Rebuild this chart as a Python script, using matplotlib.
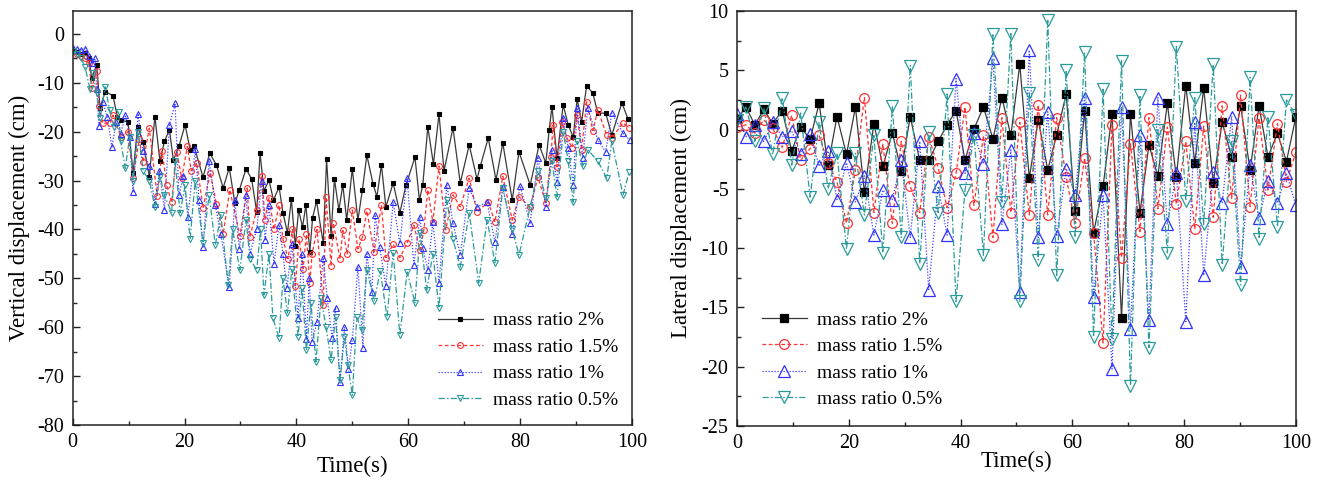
import matplotlib
matplotlib.use('Agg')
import matplotlib.pyplot as plt
from matplotlib.ticker import MultipleLocator

plt.rcParams['font.family'] = ['Liberation Serif', 'DejaVu Serif']
plt.rcParams['axes.unicode_minus'] = False

# ---------------- data: vertical displacement (left) ----------------
labels = ['mass ratio 2%', 'mass ratio 1.5%', 'mass ratio 1%', 'mass ratio 0.5%']

t_v2 = [0.0, 0.8, 1.5, 2.2, 2.9, 3.4, 4.3, 4.9, 5.8, 7.2, 8.0, 8.6, 9.9, 10.8, 11.6,
        12.6, 13.7, 14.7, 15.6, 16.4, 17.3, 18.0, 19.0, 20.1, 21.0, 21.7, 23.3, 24.5, 25.7, 26.9,
        28.0, 29.0, 29.8, 31.0, 32.0, 32.9, 33.5, 34.2, 35.1, 35.9, 36.9, 37.6, 38.4, 39.1, 39.8,
        40.4, 41.1, 41.7, 42.4, 42.9, 43.6, 44.8, 45.4, 46.2, 46.8, 47.6, 48.3, 49.0, 50.0, 51.0,
        51.8, 52.6, 53.7, 54.4, 55.2, 56.0, 57.3, 58.5, 59.6, 61.2, 62.0, 62.6, 63.5, 64.5, 65.5,
        66.4, 68.0, 69.3, 70.9, 72.3, 72.9, 74.3, 75.7, 76.9, 78.6, 79.8, 81.8, 83.4, 84.6, 85.2,
        85.7, 86.6, 87.7, 88.6, 89.5, 90.2, 91.0, 91.9, 93.0, 93.9, 95.3, 96.4, 98.2, 99.3]
v2 = [-3.2, -3.6, -4.0, -3.9, -5.0, -9.0, -6.3, -15.2, -11.8, -12.6, -17.0, -17.6, -18.0, -28.5, -19.0,
      -22.1, -29.2, -16.9, -26.0, -22.0, -19.6, -25.8, -23.0, -18.6, -23.7, -22.9, -29.3, -24.4, -26.8, -31.5,
      -27.4, -34.6, -31.9, -27.6, -29.7, -36.4, -24.4, -32.1, -29.9, -34.0, -31.3, -36.6, -40.7, -33.8, -43.4,
      -36.0, -39.5, -35.0, -44.6, -37.6, -34.2, -42.8, -25.6, -41.3, -29.7, -36.0, -30.9, -38.1, -27.6, -38.1,
      -31.9, -24.8, -30.7, -33.3, -26.8, -35.4, -30.5, -36.6, -30.9, -25.2, -34.0, -30.9, -19.0, -26.6, -16.4,
      -28.0, -19.2, -30.5, -22.7, -29.7, -27.0, -21.3, -29.9, -22.3, -34.0, -24.1, -30.9, -22.7, -26.4, -19.6,
      -14.9, -25.4, -14.5, -18.6, -21.1, -13.3, -18.0, -10.6, -12.1, -16.2, -16.2, -20.7, -14.1, -17.4]

t_v15 = [0.0, 0.8, 1.5, 2.2, 2.9, 3.4, 4.3, 4.7, 5.4, 6.7, 7.2, 8.6, 9.9, 10.8, 11.9,
         12.6, 13.7, 15.1, 16.0, 16.8, 17.7, 18.6, 19.5, 20.5, 21.2, 22.2, 23.3, 24.6, 25.7, 26.9,
         28.1, 29.9, 31.2, 31.7, 32.9, 33.8, 34.4, 35.1, 36.0, 36.9, 37.6, 38.5, 39.3, 39.8, 40.5,
         41.2, 41.8, 42.4, 42.8, 43.7, 44.8, 45.3, 46.2, 46.6, 47.8, 48.3, 49.1, 50.0, 51.0, 51.8,
         52.6, 53.9, 55.2, 56.0, 57.3, 58.5, 59.8, 61.0, 62.1, 62.8, 63.5, 64.4, 65.5, 66.7, 68.0,
         69.3, 70.9, 72.3, 74.3, 75.5, 76.9, 78.6, 79.8, 81.8, 83.2, 84.6, 85.5, 85.9, 86.6, 87.5,
         88.4, 89.3, 90.2, 91.0, 91.9, 93.0, 93.9, 95.5, 96.4, 98.4, 99.5]
v15 = [-3.5, -4.0, -4.6, -5.0, -6.0, -11.1, -7.5, -14.8, -18.3, -18.2, -16.6, -21.0, -20.0, -29.5, -21.5,
       -26.2, -19.3, -33.1, -24.0, -31.0, -34.4, -24.1, -29.5, -23.0, -28.0, -26.4, -35.6, -28.4, -34.8, -40.9,
       -31.9, -41.3, -31.5, -41.5, -36.0, -29.0, -38.0, -33.5, -40.0, -35.0, -42.0, -46.0, -40.0, -51.5, -42.0,
       -48.0, -41.0, -51.0, -45.0, -40.0, -55.5, -33.4, -47.5, -38.7, -46.0, -40.2, -45.0, -36.0, -44.0, -41.6,
       -36.2, -44.6, -35.0, -45.8, -43.0, -45.8, -42.8, -39.1, -44.2, -40.1, -31.9, -38.5, -27.0, -40.1, -32.9,
       -35.4, -29.5, -36.4, -34.4, -38.5, -29.1, -38.1, -33.3, -35.4, -29.3, -34.6, -25.2, -18.6, -27.2, -18.0,
       -21.3, -23.3, -16.6, -23.7, -13.9, -19.8, -15.6, -20.7, -21.3, -18.2, -19.2]

t_v1 = [0.0, 0.8, 1.5, 2.2, 2.9, 3.4, 4.0, 4.3, 4.7, 5.4, 6.2, 7.0, 7.8, 8.6, 9.4,
        10.2, 10.8, 11.7, 12.6, 13.7, 14.7, 15.5, 16.4, 17.3, 18.3, 19.0, 19.8, 20.6, 21.9, 22.6,
        23.3, 24.4, 25.5, 26.5, 28.0, 29.0, 29.8, 31.0, 31.7, 32.9, 33.8, 34.4, 35.1, 36.0, 36.9,
        37.6, 38.3, 39.2, 40.3, 41.0, 41.8, 42.3, 42.8, 43.7, 44.8, 45.5, 46.4, 47.0, 47.8, 48.6,
        49.3, 50.0, 51.0, 51.9, 52.6, 53.5, 54.1, 54.9, 56.0, 57.3, 58.5, 59.8, 61.0, 62.1, 62.6,
        63.5, 64.4, 65.5, 66.9, 68.0, 69.3, 70.9, 72.3, 74.1, 75.5, 76.9, 78.6, 80.0, 81.8, 83.2,
        84.6, 85.7, 86.6, 87.7, 88.6, 89.5, 90.2, 91.2, 92.1, 93.9, 95.3, 96.4, 98.4, 99.6]
v1 = [-2.8, -3.0, -3.3, -3.0, -4.5, -6.0, -5.0, -11.3, -18.8, -14.0, -17.0, -23.1, -18.0, -20.5, -16.6,
      -21.0, -32.4, -16.3, -24.0, -27.0, -34.8, -28.0, -36.0, -18.6, -14.2, -33.0, -29.0, -37.4, -23.6, -34.0,
      -43.6, -26.0, -35.0, -41.0, -51.8, -34.0, -44.0, -33.0, -45.0, -40.0, -30.0, -42.1, -35.0, -47.0, -39.0,
      -45.0, -52.0, -43.0, -58.1, -45.0, -62.4, -50.0, -63.0, -58.9, -45.8, -54.0, -62.2, -56.0, -71.2, -60.0,
      -68.5, -62.6, -47.7, -64.2, -45.0, -52.8, -37.0, -43.6, -51.6, -34.4, -42.8, -29.5, -47.3, -37.4, -43.8,
      -48.3, -38.5, -50.9, -30.9, -38.7, -45.2, -31.5, -35.4, -34.4, -42.6, -31.3, -41.0, -31.1, -38.7, -25.4,
      -35.4, -23.7, -30.3, -17.2, -23.3, -30.9, -15.1, -25.4, -15.1, -21.7, -24.1, -16.2, -20.3, -21.7]

t_v05 = [0.0, 0.8, 1.5, 2.2, 3.1, 3.6, 4.3, 4.9, 5.8, 6.6, 7.4, 8.2, 8.6, 9.4, 10.2,
         10.8, 11.7, 12.6, 13.7, 14.7, 15.6, 16.4, 17.7, 18.3, 19.2, 20.1, 21.0, 21.9, 23.3, 24.4,
         25.5, 26.5, 27.8, 28.6, 29.9, 31.0, 31.7, 32.9, 33.6, 34.2, 35.1, 35.8, 36.9, 37.6, 38.4,
         39.2, 40.3, 41.0, 41.8, 42.6, 43.5, 44.4, 45.3, 46.2, 47.0, 47.8, 48.6, 49.2, 50.0, 50.8,
         51.7, 52.6, 53.9, 55.0, 56.2, 57.3, 58.5, 59.8, 61.2, 62.1, 63.3, 64.4, 65.5, 66.9, 68.0,
         69.3, 70.9, 72.6, 74.1, 75.5, 76.9, 78.6, 79.8, 81.8, 83.2, 84.7, 85.7, 86.6, 87.7, 88.6,
         89.5, 90.2, 91.2, 92.1, 93.9, 95.5, 96.4, 98.4, 99.5]
v05 = [-3.5, -4.2, -5.0, -6.7, -11.3, -8.0, -12.0, -17.2, -10.8, -15.5, -19.0, -16.0, -22.0, -27.5, -21.0,
       -30.0, -20.0, -28.0, -30.0, -35.4, -29.0, -33.0, -36.6, -26.0, -36.6, -31.0, -42.0, -30.0, -42.8, -33.0,
       -43.2, -37.0, -51.4, -40.0, -48.3, -38.0, -46.0, -48.3, -40.0, -53.4, -45.0, -58.1, -62.2, -50.0, -57.1,
       -48.0, -62.0, -52.0, -64.7, -55.0, -67.1, -54.0, -60.0, -66.7, -58.0, -70.8, -62.0, -67.7, -73.9, -58.0,
       -60.6, -48.3, -54.6, -48.5, -57.9, -44.8, -61.6, -48.7, -55.0, -40.7, -52.4, -45.0, -56.1, -34.0, -42.0,
       -47.7, -36.6, -50.9, -38.0, -46.8, -31.5, -40.0, -45.2, -35.4, -28.0, -33.6, -26.0, -33.3, -20.0, -26.0,
       -34.4, -22.0, -27.0, -23.7, -26.0, -29.5, -22.0, -33.0, -28.2]

# ---------------- data: lateral displacement (right) ----------------
t_lat = [0.0, 1.6, 3.2, 4.8, 6.4, 8.1, 9.8, 11.4, 13.1, 14.7, 16.3, 17.9, 19.6, 21.2, 22.8,
         24.5, 26.1, 27.8, 29.4, 31.0, 32.7, 34.3, 36.0, 37.6, 39.2, 40.8, 42.4, 44.1, 45.8, 47.4,
         49.0, 50.6, 52.3, 53.9, 55.6, 57.2, 58.9, 60.5, 62.2, 63.8, 65.5, 67.1, 68.8, 70.4, 72.1,
         73.7, 75.3, 77.0, 78.6, 80.3, 81.9, 83.5, 85.2, 86.8, 88.5, 90.1, 91.8, 93.4, 95.0, 96.7,
         98.3, 100.0]
lat2 = [0.9, 1.9, 0.4, 1.7, 0.5, 1.6, -1.8, 0.2, -0.8, 2.2, -3.0, 1.1, -2.1, 1.9, -5.3,
        0.5, -3.1, -0.3, -3.5, 1.1, -2.6, -2.6, -1.0, 0.4, 1.6, -2.6, 0.05, 1.9, -0.8, 2.7,
        -0.5, 5.5, -4.1, 0.8, -3.4, -0.45, 3.0, -6.9, 1.6, -8.7, -4.8, 1.3, -15.9, 1.3, -7.0,
        -1.3, -3.9, 2.2, -4.0, 3.7, -2.8, 3.5, -4.5, 0.6, -2.3, 2.0, -3.4, 2.0, -2.3, -0.3,
        -2.7, 1.1]
lat15 = [0.2, 0.4, -0.3, 0.8, 0.1, -1.5, 1.2, -2.6, -1.6, -0.5, -2.8, -4.4, -7.9, -3.4, 2.7,
         -7.0, -1.2, -7.9, -1.0, -4.8, -7.0, -0.6, -3.2, -6.6, -3.7, 1.9, -6.4, -0.5, -9.1, 1.0,
         -7.0, 0.6, -7.2, 2.1, -7.2, 1.0, -4.0, -7.9, -2.4, -8.7, -18.0, 0.4, -10.8, -1.2, -8.6,
         1.0, -6.7, 0.2, -6.3, -1.0, -8.4, 0.3, -7.4, 2.0, -5.8, 2.9, -6.5, 1.0, -5.1, 0.5,
         -4.4, -1.9]
lat1 = [1.3, -0.6, 0.4, -1.0, 0.6, -0.6, -0.1, -2.1, -0.4, -3.1, -1.8, -5.9, -2.8, -6.1, -3.9,
        -8.9, -5.1, -5.9, -2.6, -9.1, -1.0, -13.5, -4.8, -8.9, 4.3, -3.7, -0.3, -2.9, 6.0, -8.0,
        -1.7, -13.7, 6.7, -9.1, 1.5, -9.0, -3.3, -5.5, 2.7, -14.1, -5.5, -20.2, 1.9, -16.8, -0.5,
        -16.1, 2.7, -8.0, -3.7, -16.2, 0.6, -12.3, -3.6, -6.2, 1.1, -11.6, -3.0, -7.5, -4.3, -6.2,
        -3.7, -6.4]
lat05 = [0.8, 1.9, -1.0, 1.8, -2.1, 2.7, -3.0, 1.4, -5.7, 0.6, -5.0, -2.0, -10.1, -2.0, -7.2,
         -0.5, -10.4, 2.0, -9.1, 5.4, -11.3, -0.2, -7.0, 3.0, -14.5, -5.1, -0.5, -10.6, 8.1, -6.1,
         8.1, -14.5, 3.1, -11.0, 9.2, -12.3, 5.0, -9.1, 6.5, -17.5, 3.4, -17.7, 5.8, -21.6, 2.9,
         -18.4, 0.0, -10.4, 7.0, -6.0, 2.7, -8.0, 5.5, -11.4, -1.0, -13.1, 4.4, -9.2, 1.1, -8.2,
         2.5, 1.2]

# ---------------- styles ----------------
line_colors = ['#3a3a3a', '#ff3030', '#4040ff', '#2a9a9a']
marker_colors = ['black', '#ff3030', '#3030ff', '#2a9a9a']
linestyles = ['-', (0, (3, 2)), (0, (1, 1.4)), (0, (5, 1.8, 1.2, 1.8))]
markers = ['s', 'o', '^', 'v']

fig = plt.figure(figsize=(13.24, 4.82), dpi=100)
ax1 = fig.add_axes([0.0549, 0.1183, 0.4224, 0.8589])
ax2 = fig.add_axes([0.5566, 0.1162, 0.4222, 0.8610])

left_series = [(t_v2, v2), (t_v15, v15), (t_v1, v1), (t_v05, v05)]
left_ms = [3.2, 4.2, 4.6, 4.6]
for i, (t, v) in enumerate(left_series):
    filled = (i == 0)
    ax1.plot(t, v, linestyle=linestyles[i], color=line_colors[i], lw=0.9,
             marker=markers[i], ms=left_ms[i], mew=0.8,
             mec=marker_colors[i], mfc=marker_colors[i] if filled else 'none',
             label=labels[i])

right_series = [lat2, lat15, lat1, lat05]
right_ms = [6.0, 7.0, 8.0, 8.0]
for i, v in enumerate(right_series):
    filled = (i == 0)
    ax2.plot(t_lat, v, linestyle=linestyles[i], color=line_colors[i], lw=0.9,
             marker=markers[i], ms=right_ms[i], mew=0.9,
             mec=marker_colors[i], mfc=marker_colors[i] if filled else 'none',
             label=labels[i])

ax1.set_xlim(0, 100)
ax1.set_ylim(-80, 4.7)
ax1.xaxis.set_major_locator(MultipleLocator(20))
ax1.xaxis.set_minor_locator(MultipleLocator(10))
ax1.yaxis.set_major_locator(MultipleLocator(10))
ax1.yaxis.set_minor_locator(MultipleLocator(5))
ax1.set_xlabel('Time(s)', fontsize=16.5)
ax1.set_ylabel('Vertical displacement (cm)', fontsize=16.5)
ax1.xaxis.set_label_coords(0.5, -0.075)
ax1.yaxis.set_label_coords(-0.076, 0.5)

ax2.set_xlim(0, 100)
ax2.set_ylim(-25, 10)
ax2.xaxis.set_major_locator(MultipleLocator(20))
ax2.xaxis.set_minor_locator(MultipleLocator(10))
ax2.yaxis.set_major_locator(MultipleLocator(5))
ax2.yaxis.set_minor_locator(MultipleLocator(2.5))
ax2.set_xlabel('Time(s)', fontsize=16.5)
ax2.set_ylabel('Lateral displacement (cm)', fontsize=16.5)
ax2.xaxis.set_label_coords(0.5, -0.060)
ax2.yaxis.set_label_coords(-0.080, 0.5)

for ax in (ax1, ax2):
    for s in ax.spines.values():
        s.set_linewidth(1.1)
        s.set_color('#222222')
    ax.tick_params(which='both', direction='in', top=False, right=False,
                   labelsize=14.5, color='#222222')
    ax.tick_params(which='major', length=5, width=1.0, pad=6)
    ax.tick_params(which='minor', length=3, width=1.0)

leg_kw = dict(frameon=False, fontsize=14, handlelength=2.3, handletextpad=0.55,
              labelspacing=0.46, borderpad=0, borderaxespad=0, numpoints=1,
              loc='center left')
ax1.legend(bbox_to_anchor=(0.653, 0.156), **leg_kw)
ax2.legend(bbox_to_anchor=(0.0447, 0.160), **leg_kw)

fig.savefig('out.png', dpi=100)
